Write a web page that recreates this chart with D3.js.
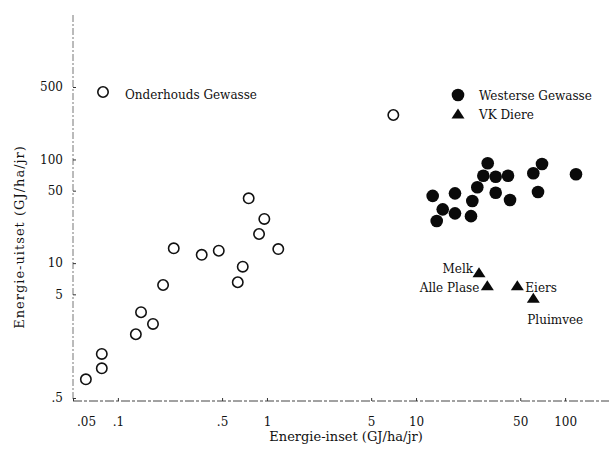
<!DOCTYPE html>
<html>
<head>
<meta charset="utf-8">
<script src="https://cdn.jsdelivr.net/npm/d3@7"></script>
<style>
  html, body { margin: 0; padding: 0; background: #fff; }
  svg text { font-family: "DejaVu Serif", "Liberation Serif", serif; fill: #111; }
</style>
</head>
<body>
<svg id="chart" width="609" height="453"></svg>
<script>
// Energie-inset teenoor energie-uitset (GJ/ha/jr), log-log

// Onderhouds gewasse (oop sirkels)
const onderhoudsInset = [0.754, 0.960, 0.885, 1.191, 0.237, 0.365, 0.475, 0.688, 0.637, 0.201, 0.143, 0.172, 0.132, 0.078, 0.078, 0.061, 7.04];
const onderhoudsUitset = [42.2, 26.7, 19.1, 13.66, 13.88, 12.02, 13.17, 9.25, 6.54, 6.15, 3.36, 2.59, 2.06, 1.33, 0.967, 0.757, 268.4];

// Westerse gewasse (soliede sirkels)
const westerseInset = [12.93, 15.10, 13.76, 18.25, 18.25, 23.37, 23.85, 25.76, 28.27, 30.25, 34.22, 34.22, 41.40, 42.70, 61.18, 69.98, 65.78, 118.3];
const westerseUitset = [44.5, 33.0, 25.5, 47.1, 30.2, 28.4, 39.7, 53.9, 69.7, 91.8, 68.2, 47.8, 69.7, 40.7, 73.5, 90.4, 48.5, 71.9];

// VK diere (driehoeke)
const diereNaam = ["Melk", "Alle Plase", "Eiers", "Pluimvee"];
const diereInset = [26.45, 30.07, 47.8, 61.18];
const diereUitset = [8.08, 6.06, 6.06, 4.58];

// As-merke
const xTickValues = [0.05, 0.1, 0.5, 1, 5, 10, 50, 100];
const xTickLabels = [".05", ".1", ".5", "1", "5", "10", "50", "100"];
const yTickValues = [0.5, 5, 10, 50, 100, 500];
const yTickLabels = [".5", "5", "10", "50", "100", "500"];

const xTitle = "Energie-inset (GJ/ha/jr)";
const yTitle = "Energie-uitset (GJ/ha/jr)";
const legendItems = ["Onderhouds Gewasse", "Westerse Gewasse", "VK Diere"];

const svg = d3.select("#chart");

const x = d3.scaleLog().domain([0.05, 200]).range([73, 610]);
const y = d3.scaleLog().domain([0.5, 500]).range([398, 87]);

const axisY0 = 401;   // baseline of the horizontal axis
const axisX0 = 73;    // position of the vertical axis

// Axis lines (dashed, like a printed plot)
svg.append("line")
  .attr("x1", axisX0).attr("x2", 609)
  .attr("y1", axisY0).attr("y2", axisY0)
  .attr("stroke", "#444").attr("stroke-width", 1)
  .attr("stroke-dasharray", "9,2,3,2");
svg.append("line")
  .attr("x1", axisX0).attr("x2", axisX0)
  .attr("y1", 15).attr("y2", axisY0)
  .attr("stroke", "#777").attr("stroke-width", 1)
  .attr("stroke-dasharray", "7,2,2,2");

// Horizontal axis ticks and labels
const xAxis = d3.axisBottom(x)
  .tickValues(xTickValues)
  .tickSize(0)
  .tickPadding(16)
  .tickFormat((d, i) => xTickLabels[i]);
const gx = svg.append("g").attr("transform", `translate(0,${axisY0})`).call(xAxis);
gx.select(".domain").remove();
gx.selectAll("text").style("font-size", "12px");
gx.selectAll("text").filter(d => d === 0.05).attr("dx", 13);
gx.selectAll(".tick").append("line")
  .attr("y1", 0).attr("y2", -3).attr("stroke", "#333");

// Vertical axis ticks and labels
const yAxis = d3.axisLeft(y)
  .tickValues(yTickValues)
  .tickSize(0)
  .tickPadding(10)
  .tickFormat((d, i) => yTickLabels[i]);
const gy = svg.append("g").attr("transform", `translate(${axisX0},0)`).call(yAxis);
gy.select(".domain").remove();
gy.selectAll("text").style("font-size", "12px");
gy.selectAll(".tick").append("line")
  .attr("x1", 0).attr("x2", 3).attr("stroke", "#333");

// Axis titles
svg.append("text")
  .attr("x", 346).attr("y", 441)
  .attr("text-anchor", "middle")
  .style("font-size", "13px")
  .text(xTitle);
svg.append("text")
  .attr("transform", "translate(24,237) rotate(-90)")
  .attr("text-anchor", "middle")
  .style("font-size", "13px")
  .style("letter-spacing", "1px")
  .text(yTitle);

// Marks
const triPath = "M-6.5,4.5L0,-5.5L6.5,4.5Z";

svg.append("g").selectAll("circle")
  .data(d3.zip(onderhoudsInset, onderhoudsUitset))
  .join("circle")
  .attr("cx", d => x(d[0])).attr("cy", d => y(d[1]))
  .attr("r", 5.2)
  .attr("fill", "#fff").attr("stroke", "#111").attr("stroke-width", 1.6);

svg.append("g").selectAll("circle")
  .data(d3.zip(westerseInset, westerseUitset))
  .join("circle")
  .attr("cx", d => x(d[0])).attr("cy", d => y(d[1]))
  .attr("r", 6.3)
  .attr("fill", "#0a0a0a");

const diere = d3.zip(diereNaam, diereInset, diereUitset);
svg.append("g").selectAll("path")
  .data(diere)
  .join("path")
  .attr("transform", d => `translate(${x(d[1])},${y(d[2])})`)
  .attr("d", triPath)
  .attr("fill", "#0a0a0a");

// Labels beside the triangles
const labelPlacement = {
  "Melk":       { anchor: "end",   dx: -6, dy: 0 },
  "Alle Plase": { anchor: "end",   dx: -8, dy: 6 },
  "Eiers":      { anchor: "start", dx: 8,  dy: 6 },
  "Pluimvee":   { anchor: "start", dx: -6, dy: 26 }
};
svg.append("g").selectAll("text")
  .data(diere)
  .join("text")
  .attr("x", d => x(d[1]) + labelPlacement[d[0]].dx)
  .attr("y", d => y(d[2]) + labelPlacement[d[0]].dy)
  .attr("text-anchor", d => labelPlacement[d[0]].anchor)
  .style("font-size", "12px")
  .text(d => d[0]);

// Legend
const lg = svg.append("g");
lg.append("circle").attr("cx", 103).attr("cy", 92).attr("r", 5.2)
  .attr("fill", "#fff").attr("stroke", "#111").attr("stroke-width", 1.6);
lg.append("text").attr("x", 125).attr("y", 99).style("font-size", "12px").text(legendItems[0]);
lg.append("circle").attr("cx", 458).attr("cy", 95).attr("r", 6.3).attr("fill", "#0a0a0a");
lg.append("text").attr("x", 479).attr("y", 100).style("font-size", "12px").text(legendItems[1]);
lg.append("path").attr("transform", "translate(458,114)").attr("d", triPath).attr("fill", "#0a0a0a");
lg.append("text").attr("x", 479).attr("y", 119).style("font-size", "12px").text(legendItems[2]);
</script>
</body>
</html>
